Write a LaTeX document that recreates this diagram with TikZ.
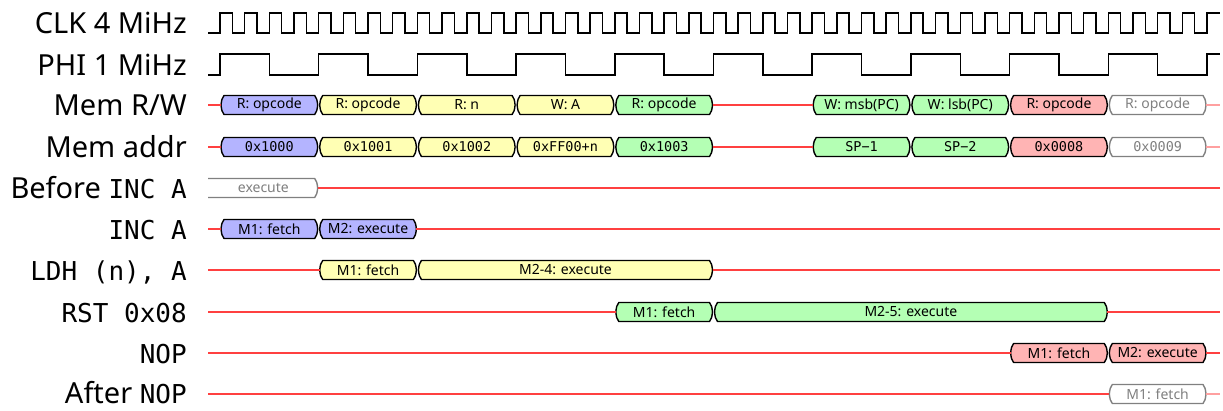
\documentclass[tikz,border=0pt]{standalone}
\usepackage{fontspec}
\setmainfont{Noto Sans}
\newfontfamily\codefont{DejaVu Sans Mono}
\definecolor{busblue}{HTML}{B4B4FF}
\definecolor{busyellow}{HTML}{FFFFB4}
\definecolor{busgreen}{HTML}{B4FFB4}
\definecolor{busred}{HTML}{FFB4B4}
\definecolor{idlered}{HTML}{FF4040}
\definecolor{fadedred}{HTML}{FFA0A0}
\definecolor{fadedgray}{HTML}{808080}
\newcommand\instr[1]{{\codefont\fontsize{26}{28}\selectfont #1}}
\def\xo{220}
\def\per{98.7}
% \bus[node opts]{path opts}{name}{from cycle}{to cycle}{y}{text}
\newcommand\bus[7][]{%
  \path[busline,#2] ({\xo+(#4)*\per+1},#6) .. controls ({\xo+(#4)*\per+1.8},{#6-6}) .. ({\xo+(#4)*\per+4},{#6-9.5})
    -- ({\xo+(#5)*\per-4},{#6-9.5}) .. controls ({\xo+(#5)*\per-1.8},{#6-6}) .. ({\xo+(#5)*\per-1},#6)
    .. controls ({\xo+(#5)*\per-1.8},{#6+6}) .. ({\xo+(#5)*\per-4},{#6+9.5})
    -- ({\xo+(#4)*\per+4},{#6+9.5}) .. controls ({\xo+(#4)*\per+1.8},{#6+6}) .. ({\xo+(#4)*\per+1},#6) -- cycle;
  \node[bustext,#1,minimum width={((#5)-(#4))*\per-2}] (#3) at ({\xo+((#4)+(#5))/2*\per},#6) {#7};}

\begin{document}
\begin{tikzpicture}[x=1pt, y=-1pt,
    lbl/.style={anchor=base east, inner sep=0pt, font=\fontsize{29}{31}\selectfont},
    wave/.style={line width=1.5pt, black},
    busline/.style={draw=black, line width=1.4pt, line join=round},
    bustext/.style={rectangle, inner sep=0pt, outer sep=0pt, minimum height=19pt,
                    font=\fontsize{14}{15}\selectfont},
    addrtext/.style={font=\codefont\fontsize{13.5}{15}\selectfont},
    ghost/.style={draw=fadedgray, fill=white},
    ghosttext/.style={text=fadedgray},
    idle/.style={idlered, line width=1.3pt},
    fadedidle/.style={fadedred, line width=1.3pt}
]
    \useasboundingbox (0,0) rectangle (1223,410);

    % row labels
    \node[lbl] (lclk) at (187,33) {CLK 4 MiHz};
    \node[lbl] (lphi) at (187,75) {PHI 1 MiHz};
    \node[lbl] (lrw) at (187,115) {Mem R/W};
    \node[lbl] (laddr) at (187,157) {Mem addr};
    \node[lbl] (lpre) at (187,198) {Before \instr{INC A}};
    \node[lbl] (linc) at (187,239) {\instr{INC A}};
    \node[lbl] (lldh) at (187,280) {\instr{LDH (n), A}};
    \node[lbl] (lrst) at (187,322) {\instr{RST 0x08}};
    \node[lbl] (lnop) at (187,363) {\instr{NOP}};
    \node[lbl] (laft) at (187,403) {After \instr{NOP}};

    % clocks
    \draw[wave] (208,33) -- (220,33)
        \foreach \k in {1,...,40} { -- ++(0,-20) -- ++(12.3375,0) -- ++(0,20) -- ++(12.3375,0) }
        -- ++(0,-20) -- (1220,13);
    \draw[wave] (208,75) -- (220,75)
        \foreach \k in {1,...,10} { -- ++(0,-21) -- ++(49.35,0) -- ++(0,21) -- ++(49.35,0) }
        -- ++(0,-21) -- (1220,54);

    % row ends
    \foreach \r/\y in {rw/105, addr/147, pre/188, inc/229, ldh/270, rst/312, nop/353, aft/394} {
        \coordinate (\r L) at (208,\y);
        \coordinate (\r R) at (1220,\y);
    }

    % memory bus
    \foreach \c/\fillc/\op/\addr in {0/busblue/R: opcode/0x1000, 1/busyellow/R: opcode/0x1001,
        2/busyellow/R: n/0x1002, 3/busyellow/W: A/0xFF00+n, 4/busgreen/R: opcode/0x1003,
        6/busgreen/W: msb(PC)/SP−1, 7/busgreen/W: lsb(PC)/SP−2, 8/busred/R: opcode/0x0008} {
        \bus{fill=\fillc}{rw\c}{\c}{\c+1}{105}{\op}
        \bus[addrtext]{fill=\fillc}{addr\c}{\c}{\c+1}{147}{\addr}
    }
    \bus[ghosttext]{ghost}{rw9}{9}{10}{105}{R: opcode}
    \bus[addrtext,ghosttext]{ghost}{addr9}{9}{10}{147}{0x0009}
    \draw[idle] (rwL) -- (rw0.west) (rw4.east) -- (rw6.west);
    \draw[idle] (addrL) -- (addr0.west) (addr4.east) -- (addr6.west);
    \draw[fadedidle] (rw9.east) -- (rwR) (addr9.east) -- (addrR);

    % before INC A
    \draw[busline, ghost] (208,178.5) -- ({\xo+\per-4},178.5) .. controls ({\xo+\per-1.8},182)
        .. ({\xo+\per-1},188) .. controls ({\xo+\per-1.8},194) .. ({\xo+\per-4},197.5) -- (208,197.5);
    \node[bustext, ghosttext] (pre) at ({(208+\xo+\per)/2},188) {execute};
    \coordinate (preE) at ({\xo+\per-1},188);
    \draw[idle] (preE) -- (preR);

    % INC A
    \bus{fill=busblue}{inc1}{0}{1}{229}{M1: fetch}
    \bus{fill=busblue}{inc2}{1}{2}{229}{M2: execute}
    \draw[idle] (incL) -- (inc1.west) (inc2.east) -- (incR);

    % LDH (n), A
    \bus{fill=busyellow}{ldh1}{1}{2}{270}{M1: fetch}
    \bus{fill=busyellow}{ldh2}{2}{5}{270}{M2-4: execute}
    \draw[idle] (ldhL) -- (ldh1.west) (ldh2.east) -- (ldhR);

    % RST 0x08
    \bus{fill=busgreen}{rst1}{4}{5}{312}{M1: fetch}
    \bus{fill=busgreen}{rst2}{5}{9}{312}{M2-5: execute}
    \draw[idle] (rstL) -- (rst1.west) (rst2.east) -- (rstR);

    % NOP
    \bus{fill=busred}{nop1}{8}{9}{353}{M1: fetch}
    \bus{fill=busred}{nop2}{9}{10}{353}{M2: execute}
    \draw[idle] (nopL) -- (nop1.west) (nop2.east) -- (nopR);

    % after NOP
    \bus[ghosttext]{ghost}{aft1}{9}{10}{394}{M1: fetch}
    \draw[idle] (aftL) -- (aft1.west);
    \draw[fadedidle] (aft1.east) -- (aftR);
\end{tikzpicture}
\end{document}
